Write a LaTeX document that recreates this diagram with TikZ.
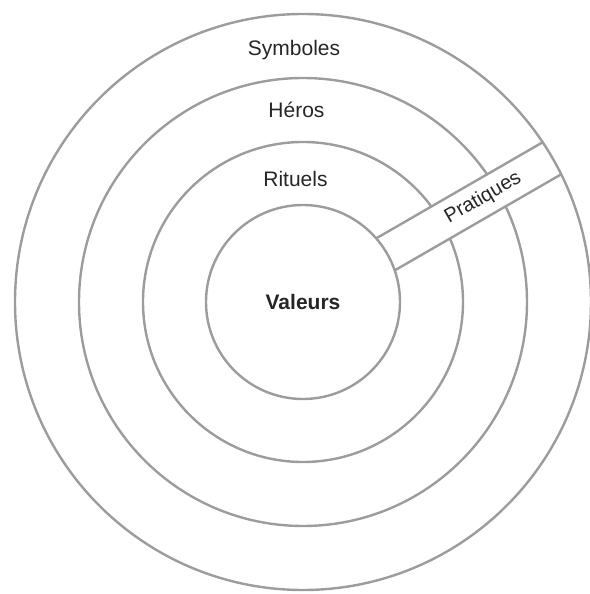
\documentclass[tikz,border=0pt]{standalone}
\usepackage{fontspec}
\setmainfont{Liberation Sans}
\usepackage{xcolor}
\usepackage{tikz}
\usetikzlibrary{shapes,positioning}

\definecolor{ringgray}{HTML}{9C9C9C}
\definecolor{labelgray}{HTML}{262626}

\begin{document}
\begin{tikzpicture}[
                x=1pt, y=1pt,
                ring/.style={circle, draw=ringgray, line width=2.4pt, inner sep=0pt},
                bandline/.style={draw=ringgray, line width=2.4pt},
                layertext/.style={font=\fontsize{21}{24}\selectfont, text=labelgray, anchor=base},
                coretext/.style={font=\fontsize{21}{24}\selectfont\bfseries, text=labelgray}
            ]
                \useasboundingbox (-303,-292) rectangle (286,302);

                % Middle rings (Rituels, Heros)
                \node[ring, minimum size=320pt] (rituels) at (0,0) {};
                \node[ring, minimum size=448pt] (heros) at (0,0) {};

                % Pratiques band cut through the rings
                \begin{scope}[rotate=30]
                    \fill[white] (90,-18.5) rectangle (292,18.5);
                    \coordinate (bandinup) at (95.2,18.5);
                    \coordinate (bandoutup) at (287.4,18.5);
                    \coordinate (bandinlow) at (95.2,-18.5);
                    \coordinate (bandoutlow) at (287.4,-18.5);
                    \node[font=\fontsize{20}{23}\selectfont, text=labelgray, rotate=30] (pratiques) at (208,0) {Pratiques};
                \end{scope}
                \draw[bandline] (bandinup) -- (bandoutup);
                \draw[bandline] (bandinlow) -- (bandoutlow);

                % Core and outer ring
                \node[ring, coretext, minimum size=194pt] (valeurs) at (0,0) {Valeurs};
                \node[ring, minimum size=576pt] (symboles) at (0,0) {};

                % Layer labels
                \node[layertext] (symbtext) at (-9,246) {Symboles};
                \node[layertext] (herostext) at (-6.5,184.3) {Héros};
                \node[layertext] (ritutext) at (-7.5,115.3) {Rituels};
            \end{tikzpicture}
\end{document}
